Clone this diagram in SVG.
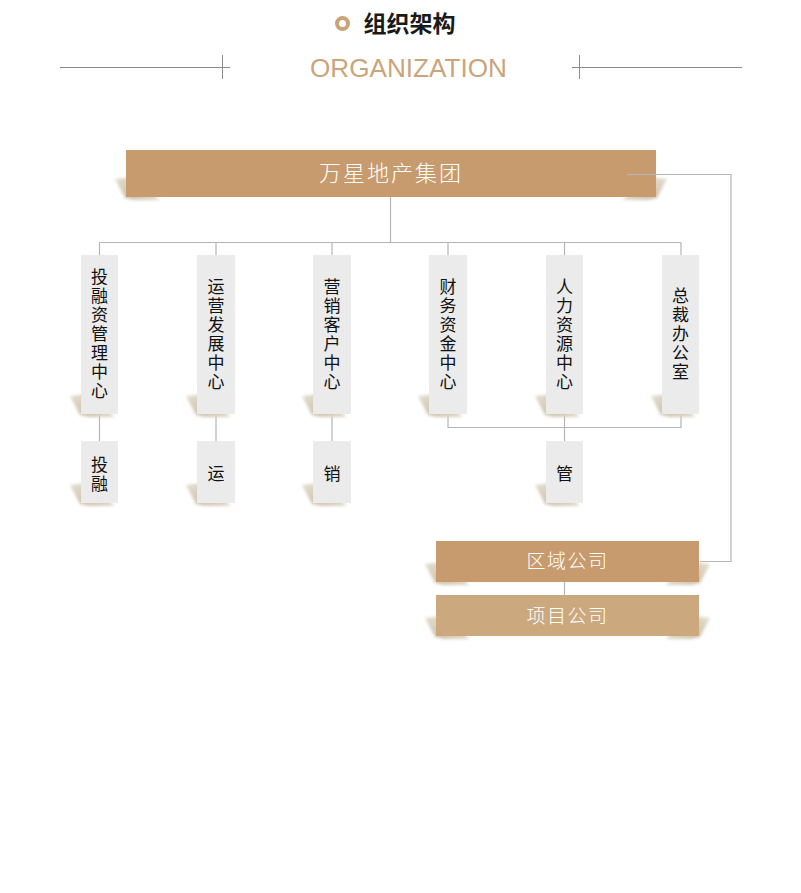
<svg xmlns="http://www.w3.org/2000/svg" xmlns:xlink="http://www.w3.org/1999/xlink" width="801" height="893" viewBox="0 0 801 893">
<style>
.hl{stroke:#8a8a8a;stroke-width:1;fill:none}
.cn{stroke:#b5b5b5;stroke-width:1.2;fill:none}
.gold{fill:#c89b6e}
.gold2{fill:#cca87f}
.gray{fill:#ebebeb}
.wt{font-family:"Noto Sans CJK SC","Noto Sans",sans-serif;fill:#ffffff;text-anchor:middle;font-weight:300}
.vt{font-family:"Noto Sans CJK SC","Noto Sans",sans-serif;fill:#111111;font-size:17px;text-anchor:middle;writing-mode:vertical-rl;letter-spacing:2px}
</style>
<defs>
<filter id="bl" x="-50%" y="-50%" width="200%" height="200%"><feGaussianBlur stdDeviation="1.6"/></filter>
<linearGradient id="sg" x1="0" y1="0" x2="1" y2="1">
<stop offset="0" stop-color="#e6dfd2"/>
<stop offset="0.6" stop-color="#cfc3ad"/>
<stop offset="1" stop-color="#e2dbcd"/>
</linearGradient>
<path id="sh" d="M14,-21 L-11,-18 L-1,1 L8,3 L34,3 L30,0 Z" fill="url(#sg)" filter="url(#bl)"/>
</defs>

<g id="header">
<circle cx="342.5" cy="23.5" r="5.5" fill="#ffffff" stroke="#c9a477" stroke-width="4"/>
<text x="409.5" y="32" font-family="Noto Sans CJK SC,sans-serif" font-size="23" font-weight="bold" fill="#1a1a1a" text-anchor="middle">组织架构</text>
<text x="408.5" y="77" font-family="Liberation Sans,Arial,sans-serif" font-size="26.5" fill="#cba57a" text-anchor="middle" textLength="197" lengthAdjust="spacingAndGlyphs">ORGANIZATION</text>
<path class="hl" d="M60,67.5 H230 M222.5,55 V79 M572,67.5 H742 M579.5,55 V79"/>
</g>

<g id="connectors">
<path class="cn" d="M390.5,197 V242.5 M99.5,242.5 H681 M99.5,242.5 V255 M216,242.5 V255 M332,242.5 V255 M448,242.5 V255 M564.5,242.5 V255 M681,242.5 V255"/>
<path class="cn" d="M99.5,413 V441 M216,413 V441 M332,413 V441"/>
<path class="cn" d="M448,413 V427.5 H681 V413 M564.5,413 V441"/>
<path class="cn" d="M564.5,582 V595"/>
<path class="cn" d="M627,174.5 H731 V561.5 H700"/>
</g>

<g id="n-group">
<use xlink:href="#sh" x="126" y="197"/>
<use xlink:href="#sh" transform="translate(656,197) scale(-1,1)"/>
<rect class="gold" x="126" y="150" width="530" height="47"/>
<text class="wt" x="391" y="181" font-size="22" letter-spacing="2">万星地产集团</text>
<path class="cn" d="M627,174.5 H656"/>
</g>

<g id="n-touzi">
<use xlink:href="#sh" x="81" y="414"/>
<rect class="gray" x="81" y="255" width="37" height="159"/>
<text class="vt" x="99.5" y="335">投融资管理中心</text>
</g>
<g id="n-yunying">
<use xlink:href="#sh" x="197" y="414"/>
<rect class="gray" x="197" y="255" width="38" height="159"/>
<text class="vt" x="216" y="335">运营发展中心</text>
</g>
<g id="n-yingxiao">
<use xlink:href="#sh" x="313" y="414"/>
<rect class="gray" x="313" y="255" width="38" height="159"/>
<text class="vt" x="332" y="335">营销客户中心</text>
</g>
<g id="n-caiwu">
<use xlink:href="#sh" x="429" y="414"/>
<rect class="gray" x="429" y="255" width="38" height="159"/>
<text class="vt" x="448" y="335">财务资金中心</text>
</g>
<g id="n-renli">
<use xlink:href="#sh" x="546" y="414"/>
<rect class="gray" x="546" y="255" width="37" height="159"/>
<text class="vt" x="564.5" y="335">人力资源中心</text>
</g>
<g id="n-zongcai">
<use xlink:href="#sh" x="662" y="414"/>
<rect class="gray" x="662" y="255" width="37" height="159"/>
<text class="vt" x="680.5" y="335">总裁办公室</text>
</g>

<g id="n-tou">
<use xlink:href="#sh" x="81" y="503"/>
<rect class="gray" x="81" y="441" width="37" height="62"/>
<text class="vt" x="99.5" y="475">投融</text>
</g>
<g id="n-yun">
<use xlink:href="#sh" x="197" y="503"/>
<rect class="gray" x="197" y="441" width="38" height="62"/>
<text class="vt" x="216" y="475">运</text>
</g>
<g id="n-xiao">
<use xlink:href="#sh" x="313" y="503"/>
<rect class="gray" x="313" y="441" width="38" height="62"/>
<text class="vt" x="332" y="475">销</text>
</g>
<g id="n-guan">
<use xlink:href="#sh" x="546" y="503"/>
<rect class="gray" x="546" y="441" width="37" height="62"/>
<text class="vt" x="564.5" y="474.5">管</text>
</g>

<g id="n-quyu">
<use xlink:href="#sh" x="436" y="582"/>
<use xlink:href="#sh" transform="translate(699,582) scale(-1,1)"/>
<rect class="gold" x="436" y="541" width="263" height="41"/>
<text class="wt" x="567.5" y="568" font-size="19" letter-spacing="1.5">区域公司</text>
</g>
<g id="n-xiangmu">
<use xlink:href="#sh" x="436" y="636"/>
<use xlink:href="#sh" transform="translate(699,636) scale(-1,1)"/>
<rect class="gold2" x="436" y="595" width="263" height="41"/>
<text class="wt" x="567.5" y="622.5" font-size="19" letter-spacing="1.5">项目公司</text>
</g>
</svg>
